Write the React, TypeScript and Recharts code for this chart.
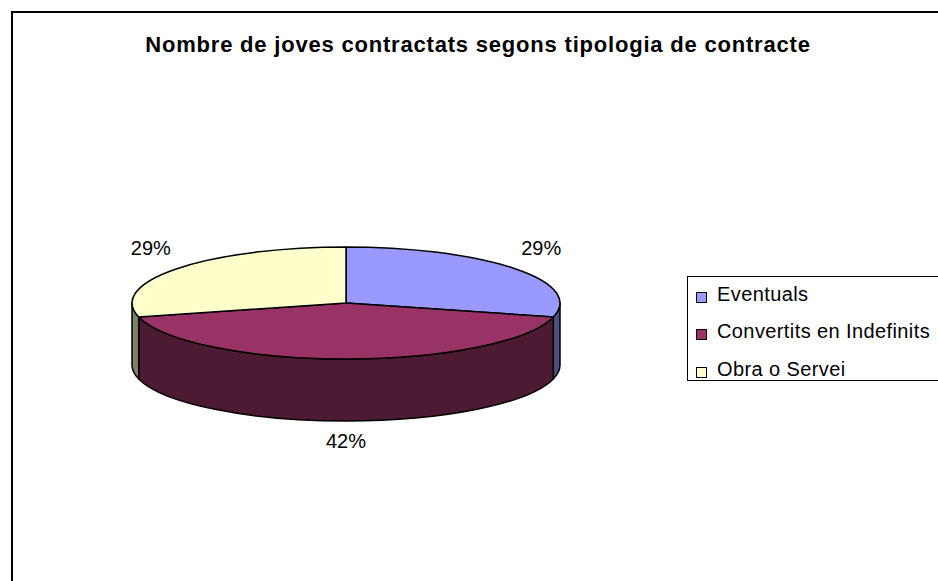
import React from 'react';
import { PieChart, Pie, Cell, Legend } from 'recharts';

const categories = ['Eventuals', 'Convertits en Indefinits', 'Obra o Servei'];
const values = [29, 42, 29];
const topColors = ['#9999FF', '#993366', '#FFFFCC'];
const sideColors = ['#4D4D80', '#4D1A33', '#808066'];
const title = 'Nombre de joves contractats segons tipologia de contracte';

const data = categories.map((name, i) => ({ name, value: values[i], side: sideColors[i] }));

const RY_RATIO = 56 / 214;
const DEPTH = 62;
const FONT = '"Liberation Sans", Arial, sans-serif';

function ellPt(cx: number, cy: number, rx: number, ry: number, a: number): [number, number] {
  const r = (a * Math.PI) / 180;
  return [cx + rx * Math.cos(r), cy - ry * Math.sin(r)];
}

const Shape3D = (props: any) => {
  const { cx, cy, outerRadius, startAngle, endAngle, fill } = props;
  const side = props.side ?? props.payload?.side ?? '#444';
  const rx = outerRadius;
  const ry = outerRadius * RY_RATIO;
  const [x1, y1] = ellPt(cx, cy, rx, ry, startAngle);
  const [x2, y2] = ellPt(cx, cy, rx, ry, endAngle);
  const delta = endAngle - startAngle;
  const large = Math.abs(delta) > 180 ? 1 : 0;
  const sweep = delta < 0 ? 1 : 0;
  const top = `M${cx},${cy} L${x1},${y1} A${rx},${ry} 0 ${large} ${sweep} ${x2},${y2} Z`;
  const lo = Math.min(startAngle, endAngle);
  const hi = Math.max(startAngle, endAngle);
  const walls: string[] = [];
  for (let k = -2; k <= 1; k++) {
    const fl = -180 + 360 * k;
    const fh = 360 * k;
    const s = Math.max(lo, fl);
    const e = Math.min(hi, fh);
    if (e - s > 0.01) {
      const [ex, ey] = ellPt(cx, cy, rx, ry, e);
      const [sx, sy] = ellPt(cx, cy, rx, ry, s);
      walls.push(
        `M${ex},${ey} A${rx},${ry} 0 0 1 ${sx},${sy} L${sx},${sy + DEPTH} A${rx},${ry} 0 0 0 ${ex},${ey + DEPTH} Z`
      );
    }
  }
  return (
    <g>
      {walls.map((d, i) => (
        <path key={i} d={d} fill={side} stroke="#000" strokeWidth={1.5} strokeLinejoin="round" />
      ))}
      <path d={top} fill={fill} stroke="#000" strokeWidth={1.5} strokeLinejoin="round" />
    </g>
  );
};

const renderLabel = (p: any) => {
  const { cx, cy, midAngle, outerRadius, percent } = p;
  const rx = outerRadius;
  const ry = rx * RY_RATIO;
  const r = (midAngle * Math.PI) / 180;
  const c = Math.cos(r);
  const s = Math.sin(r);
  const x = cx + c * (rx + 33);
  const y = cy - s * (ry + 22) + (s < 0 ? -s * (DEPTH - 2) : -11 * s);
  return (
    <text x={x} y={y} textAnchor="middle" dominantBaseline="central" fontSize={20} fontFamily={FONT} fill="#000">
      {`${Math.round(percent * 100)}%`}
    </text>
  );
};

const renderLegend = (props: any) => {
  const payload = [...(props.payload ?? [])].sort(
    (a: any, b: any) => categories.indexOf(a.value) - categories.indexOf(b.value)
  );
  return (
    <div
      style={{
        position: 'relative',
        width: 300,
        height: 105,
        border: '1px solid #000',
        boxSizing: 'border-box',
        background: '#fff',
        fontFamily: FONT,
      }}
    >
      {payload.map((entry: any, i: number) => {
        const cyItem = 20.5 + i * 37.25;
        const color = topColors[categories.indexOf(entry.value)] ?? entry.color;
        return (
          <React.Fragment key={i}>
            <div
              style={{
                position: 'absolute',
                left: 8,
                top: cyItem - 5.5,
                width: 9,
                height: 9,
                border: '1px solid #000',
                background: color,
              }}
            />
            <div
              style={{
                position: 'absolute',
                left: 29,
                top: cyItem - 3 - 11.5,
                height: 23,
                lineHeight: '23px',
                fontSize: 20,
                letterSpacing: 0.4,
                whiteSpace: 'nowrap',
                color: '#000',
              }}
            >
              {entry.value}
            </div>
          </React.Fragment>
        );
      })}
    </div>
  );
};

export default function App() {
  return (
    <div
      style={{
        position: 'absolute',
        left: 0,
        top: 0,
        width: 938,
        height: 581,
        overflow: 'hidden',
        background: '#fff',
      }}
    >
      <div
        style={{
          position: 'absolute',
          left: 11,
          top: 11,
          width: 1000,
          height: 1000,
          border: '2px solid #000',
          boxSizing: 'border-box',
        }}
      />
      <svg style={{ position: 'absolute', left: 0, top: 0 }} width={938} height={80}>
        <text
          x={478}
          y={52}
          textAnchor="middle"
          fontSize={22}
          fontWeight="bold"
          fontFamily={FONT}
          letterSpacing={0.8}
          fill="#000"
        >
          {title}
        </text>
      </svg>
      <div style={{ position: 'absolute', left: 0, top: 0 }}>
        <PieChart width={938} height={581} margin={{ top: 0, right: 0, bottom: 0, left: 0 }}>
          <Pie
            data={data}
            dataKey="value"
            nameKey="name"
            cx={346}
            cy={303}
            outerRadius={214}
            startAngle={90}
            endAngle={-270}
            stroke="none"
            isAnimationActive={false}
            shape={Shape3D}
            inactiveShape={Shape3D}
            activeShape={Shape3D}
            label={renderLabel}
            labelLine={false}
          >
            {data.map((d, i) => (
              <Cell key={d.name} fill={topColors[i]} />
            ))}
          </Pie>
          <Legend
            content={renderLegend}
            wrapperStyle={{ position: 'absolute', left: 687, top: 276, width: 300, height: 105 }}
          />
        </PieChart>
      </div>
    </div>
  );
}
